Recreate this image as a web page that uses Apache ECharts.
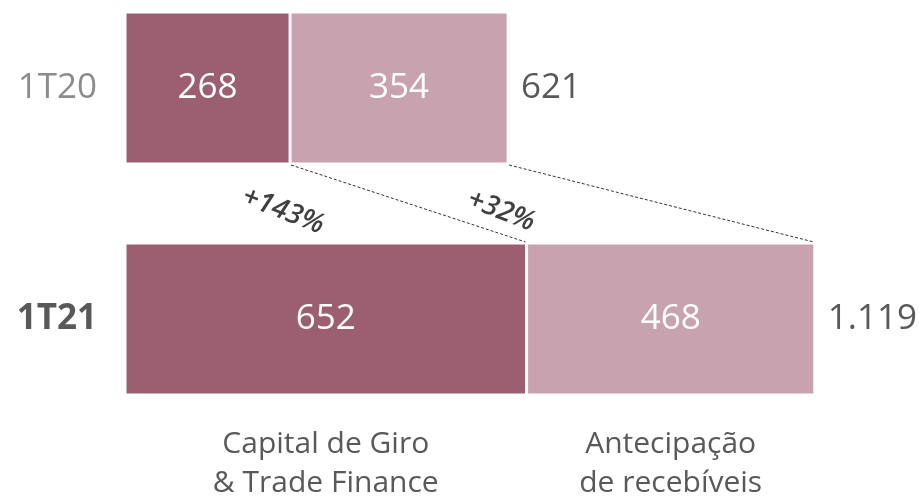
<!DOCTYPE html>
<html>
<head>
<meta charset="utf-8">
<script src="https://cdn.jsdelivr.net/npm/echarts@6/dist/echarts.min.js"></script>
<style>
html, body { margin: 0; background: #fff; }
#chart { width: 919px; height: 500px; }
</style>
</head>
<body>
<div id="chart"></div>
<script>
var periods = ['1T20', '1T21'];
var capitalGiro = [268, 652];
var antecipacao = [354, 468];
var totals = ['621', '1.119'];
var growth = ['+143%', '+32%'];
var products = ['Capital de Giro\n& Trade Finance', 'Antecipação\nde recebíveis'];

var FONT = '"Open Sans", "Noto Sans", sans-serif';
var DARK = '#9c5e71';
var LIGHT = '#c8a2ae';
var BAR_W = 152;

// connectors: end of each segment in 1T20 -> end of same segment in 1T21
var connectors = [
    [capitalGiro[0], capitalGiro[1], 0],
    [capitalGiro[0] + antecipacao[0], capitalGiro[1] + antecipacao[1], 0]
];
var totalPoints = periods.map(function (p, i) {
    return [capitalGiro[i] + antecipacao[i], i];
});
var last = periods.length - 1;
var captionPoints = [
    [0, capitalGiro[last], last],
    [capitalGiro[last], capitalGiro[last] + antecipacao[last], last]
];

var chart = echarts.init(document.getElementById('chart'));
chart.setOption({
    animation: false,
    grid: { left: 125, right: 58, top: 88, bottom: 181 },
    xAxis: { type: 'value', min: 0, max: 1195, show: false },
    yAxis: {
        type: 'category',
        data: periods,
        inverse: true,
        boundaryGap: false,
        axisLine: { show: false },
        axisTick: { show: false },
        splitLine: { show: false },
        axisLabel: {
            margin: 28,
            formatter: function (v, i) {
                return i === last ? '{b|' + v + '}' : '{a|' + v + '}';
            },
            rich: {
                a: { fontFamily: FONT, fontSize: 35, color: '#8c8c8c' },
                b: { fontFamily: FONT, fontSize: 35, fontWeight: 'bold', color: '#595959' }
            }
        }
    },
    series: [
        {
            type: 'bar', stack: 'total', barWidth: BAR_W, data: capitalGiro,
            itemStyle: { color: DARK, borderColor: '#fff', borderWidth: 1.5 },
            label: { show: true, position: 'inside', color: '#fff', fontFamily: FONT, fontSize: 35 }
        },
        {
            type: 'bar', stack: 'total', barWidth: BAR_W, data: antecipacao,
            itemStyle: { color: LIGHT, borderColor: '#fff', borderWidth: 1.5 },
            label: { show: true, position: 'inside', color: '#fff', fontFamily: FONT, fontSize: 35 }
        },
        {
            type: 'custom',
            data: connectors,
            encode: { x: [0, 1], y: 2 },
            renderItem: function (params, api) {
                var p0 = api.coord([api.value(0), 0]);
                var p1 = api.coord([api.value(1), 1]);
                var x0 = p0[0] + 1, y0 = p0[1] + BAR_W / 2 + 1;
                var x1 = p1[0] - 1, y1 = p1[1] - BAR_W / 2 - 1;
                return {
                    type: 'group',
                    children: [
                        {
                            type: 'line',
                            shape: { x1: x0, y1: y0, x2: x1, y2: y1 },
                            style: { stroke: '#333', lineWidth: 1, lineDash: [3, 2] }
                        },
                        {
                            type: 'text',
                            x: x0 - 8, y: y0 + 46,
                            rotation: -0.37,
                            style: {
                                text: growth[params.dataIndex],
                                fill: '#404040',
                                fontFamily: FONT, fontSize: 28,
                                fontWeight: 600, fontStyle: 'italic',
                                align: 'center', verticalAlign: 'middle'
                            }
                        }
                    ]
                };
            }
        },
        {
            type: 'custom',
            data: totalPoints,
            encode: { x: 0, y: 1 },
            renderItem: function (params, api) {
                var p = api.coord([api.value(0), api.value(1)]);
                return {
                    type: 'text',
                    x: p[0] + 13, y: p[1],
                    style: {
                        text: totals[params.dataIndex],
                        fill: '#595959',
                        fontFamily: FONT, fontSize: 35,
                        align: 'left', verticalAlign: 'middle'
                    }
                };
            }
        },
        {
            type: 'custom',
            data: captionPoints,
            encode: { x: [0, 1], y: 2 },
            renderItem: function (params, api) {
                var a = api.coord([api.value(0), api.value(2)]);
                var b = api.coord([api.value(1), api.value(2)]);
                return {
                    type: 'text',
                    x: (a[0] + b[0]) / 2, y: a[1] + 106,
                    style: {
                        text: products[params.dataIndex],
                        fill: '#595959',
                        fontFamily: FONT, fontSize: 30, lineHeight: 39,
                        align: 'center', verticalAlign: 'top'
                    }
                };
            }
        }
    ]
});
</script>
</body>
</html>
